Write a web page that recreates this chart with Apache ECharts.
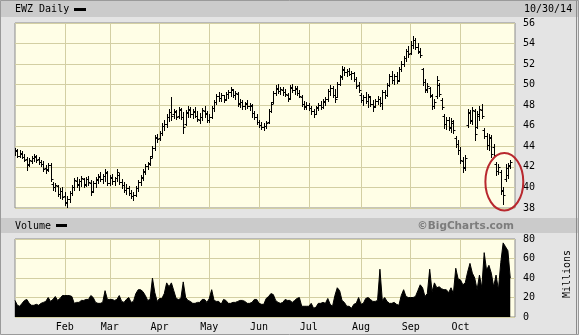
<!DOCTYPE html>
<html><head><meta charset="utf-8">
<script src="https://cdn.jsdelivr.net/npm/echarts@6/dist/echarts.min.js"></script>
<style>html,body{margin:0;padding:0;background:#e4e4e4;}#c{width:579px;height:335px;}</style>
</head><body><div id="c"></div>
<script>
// ---- text / labels ----
const titleText = 'EWZ Daily';
const dateText = '10/30/14';
const volumeTitle = 'Volume';
const creditText = '\u00A9BigCharts.com';
const volumeUnit = 'Millions';
const monthLabels = ['Jan','Feb','Mar','Apr','May','Jun','Jul','Aug','Sep','Oct','Nov'];
const priceTicks = [38, 56, 2];   // min, max, step
const volumeTicks = [0, 80, 20];  // min, max, step

// ---- trading calendar (categories) ----
const firstDay = '2014-01-02', lastDay = '2014-10-30';
const holidays = ['2014-01-20','2014-02-17','2014-04-18','2014-05-26','2014-07-04','2014-09-01'];
const padDays = ['2014-10-31','2014-11-03'];

// ---- price bars (Jan ... Oct, one per trading day) ----
const opens = [
43.5,43.5,43.1,43.3,43.0,42.8,42.3,42.6,42.9,43.0,42.8,42.5,42.3,41.9,41.8,42.2,40.3,40.0,40.1,39.4,39.7,
39.2,38.5,38.9,39.5,40.0,40.6,40.2,40.6,40.8,40.3,40.8,40.4,39.7,40.4,40.7,41.0,40.8,41.1,41.4,
40.4,40.9,40.6,40.9,41.2,40.5,40.2,39.8,39.9,39.5,39.2,39.3,39.9,40.5,41.0,41.5,42.1,42.4,43.1,43.8,44.8,
44.8,45.3,46.0,46.2,46.9,47.3,47.1,47.3,47.0,47.5,46.9,46.2,47.2,47.5,47.1,47.3,47.0,46.6,46.9,47.4,47.1,
46.6,46.9,47.7,48.3,48.9,48.7,49.0,48.6,49.1,49.3,49.5,49.0,49.1,48.2,48.3,47.9,48.1,47.9,47.9,47.2,46.9,
46.4,46.1,45.9,46.0,46.4,47.4,48.3,49.2,49.6,49.4,49.5,49.3,49.0,48.7,49.7,49.5,49.6,49.2,48.8,48.1,47.8,
48.0,47.7,47.4,47.1,47.7,48.0,47.8,48.3,48.6,49.4,49.7,49.0,48.8,50.1,50.8,51.4,51.2,51.3,51.0,51.1,50.6,50.0,
49.0,48.5,48.8,48.4,48.8,48.1,47.9,48.4,48.6,48.2,49.3,49.0,50.0,50.8,50.5,50.8,50.5,51.5,52.0,52.6,53.3,
53.1,53.9,54.3,53.7,53.2,51.5,50.3,49.6,49.7,48.9,47.9,48.9,50.0,48.5,47.0,46.2,46.6,45.8,46.3,44.8,44.2,
43.6,42.6,42.0,46.1,47.2,46.5,47.4,45.9,47.0,47.5,45.6,45.0,44.1,44.8,43.9,42.3,41.6,41.5,39.7,40.8,41.2,42.1
];
const highs = [
43.8,43.7,43.6,43.5,43.3,43.0,42.9,43.1,43.3,43.2,43.0,42.7,42.6,42.2,42.4,42.4,40.5,40.4,40.2,39.9,40.0,
39.6,39.2,39.7,40.2,40.9,41.0,40.8,41.1,40.9,41.0,41.1,40.7,40.6,41.0,41.3,41.5,41.3,41.8,41.6,
41.2,41.3,41.0,41.8,41.4,40.8,40.5,40.3,40.1,39.8,39.6,40.1,40.7,41.2,41.8,42.3,42.5,43.1,44.0,45.1,45.2,
45.5,46.3,46.6,47.1,47.6,48.8,47.6,47.5,47.8,47.7,47.3,47.5,47.9,47.8,47.6,47.8,47.4,47.2,47.7,47.9,47.4,
47.1,47.9,48.5,49.1,49.3,49.2,49.0,49.3,49.5,49.8,49.6,49.4,49.3,48.6,48.5,48.3,48.5,48.2,48.1,47.4,47.1,
46.6,46.4,46.3,46.5,47.6,48.3,49.4,50.0,50.1,49.8,49.8,49.6,49.2,50.0,50.1,49.9,49.9,49.5,49.0,48.4,48.3,
48.2,47.9,47.6,47.9,48.2,48.4,48.6,48.8,49.6,50.0,49.9,49.6,50.3,50.9,51.8,51.7,51.5,51.6,51.3,51.2,50.7,50.3,
49.2,49.0,49.3,49.1,48.9,48.5,48.6,48.9,48.8,49.5,49.5,50.2,51.0,51.3,51.0,51.2,51.7,52.3,52.8,53.5,53.8,
54.2,54.7,54.5,54.1,53.6,51.6,50.6,50.2,49.8,49.1,48.6,50.8,50.2,48.7,47.1,46.9,46.9,46.8,46.6,45.0,44.6,
43.9,43.0,43.2,47.6,47.5,47.8,47.6,47.4,47.9,48.1,45.8,45.3,45.2,45.1,44.2,42.5,42.3,41.7,40.0,42.3,42.4,42.7
];
const lows = [
43.2,43.0,43.0,42.9,42.6,41.7,42.1,42.4,42.6,42.5,42.3,42.1,41.6,41.4,41.6,40.6,39.8,39.7,39.2,39.0,38.9,
38.3,38.0,38.6,39.3,39.8,40.0,39.8,40.1,40.0,40.1,40.2,39.3,39.6,40.0,40.4,40.6,40.4,40.6,40.2,
40.2,40.3,40.2,40.6,40.3,39.9,39.6,39.4,39.3,39.0,38.8,39.2,39.7,40.2,40.7,41.3,41.8,42.2,43.0,43.6,44.4,
44.6,45.1,45.6,45.9,46.5,46.6,46.8,46.7,46.8,46.7,45.3,46.1,46.9,46.9,46.8,46.9,46.5,46.3,46.6,46.9,46.4,
46.4,46.8,47.4,48.1,48.4,48.4,48.3,48.5,48.7,48.9,48.8,48.6,47.9,47.8,47.6,47.6,47.7,47.5,46.9,46.7,46.2,
45.9,45.7,45.6,45.8,46.3,47.3,48.2,49.0,49.2,49.1,49.0,48.9,48.4,48.6,49.3,49.1,49.0,48.8,47.9,47.6,47.6,
47.5,47.1,46.9,47.1,47.5,47.6,47.7,48.0,48.4,49.0,48.8,48.3,48.8,50.0,50.6,50.9,50.8,50.9,50.6,50.4,49.7,49.3,
48.3,48.0,48.2,47.8,47.9,47.4,47.8,48.1,47.9,47.6,48.7,48.9,49.9,50.2,50.1,50.2,50.4,51.3,51.8,52.3,52.7,
53.0,53.6,53.5,53.1,52.7,50.0,49.3,49.3,48.8,47.6,47.7,48.7,48.9,47.6,45.8,45.7,45.6,45.4,45.3,43.9,43.3,
42.4,41.5,41.7,45.9,46.3,46.2,44.6,45.8,46.6,46.8,44.8,43.7,43.6,43.0,43.0,41.2,41.3,39.4,38.4,40.6,40.9,41.9
];
const closes = [
43.6,43.1,43.4,43.0,42.7,42.2,42.7,42.9,43.1,42.7,42.5,42.3,41.8,41.7,42.2,40.8,40.0,40.2,39.4,39.7,39.1,
38.6,38.9,39.5,40.0,40.7,40.3,40.6,40.9,40.2,40.8,40.5,39.6,40.4,40.8,41.1,40.8,41.1,41.5,40.4,
41.0,40.6,40.9,41.5,40.5,40.2,39.8,39.9,39.5,39.2,39.3,39.9,40.5,40.9,41.6,42.1,42.3,42.9,43.8,44.9,44.7,
45.3,46.0,46.2,46.9,47.3,47.0,47.4,46.9,47.6,46.9,45.9,47.3,47.6,47.1,47.4,47.0,46.7,46.9,47.5,47.2,46.6,
46.9,47.7,48.3,48.9,48.7,49.0,48.5,49.1,49.3,49.6,49.0,49.2,48.1,48.3,47.9,48.2,47.9,48.0,47.2,46.9,46.4,
46.1,45.9,46.0,46.3,47.4,48.1,49.2,49.7,49.4,49.6,49.3,49.1,48.6,49.8,49.5,49.7,49.2,48.9,48.1,47.9,48.0,
47.7,47.4,47.1,47.8,48.0,47.8,48.4,48.6,49.4,49.7,49.0,48.6,50.1,50.7,51.5,51.2,51.3,51.0,51.1,50.6,49.9,49.5,
48.5,48.8,48.4,48.9,48.1,47.8,48.4,48.6,48.2,49.3,49.0,50.0,50.8,50.5,50.8,50.4,51.5,52.0,52.6,53.3,53.0,
53.9,54.3,53.7,53.3,52.9,50.3,49.5,49.9,49.0,47.9,48.3,50.5,49.1,47.8,46.2,46.6,45.9,46.5,45.6,44.2,43.6,
42.7,41.9,42.9,47.3,46.6,47.5,45.2,47.1,47.6,47.0,45.0,44.1,44.9,43.3,43.2,41.6,42.0,39.8,39.3,41.9,42.2,42.5
];
// ---- volume, millions ----
const volumes = [
17,12,11,14,17,18,14,12,12,13,12,14,15,16,20,16,18,21,17,19,22,
22,22,22,21,14,15,15,17,17,18,18,22,20,15,14,14,15,27,18,
18,18,17,18,22,16,15,18,20,15,16,24,28,28,26,22,17,18,40,25,16,
19,19,24,35,31,35,27,19,18,19,36,20,17,16,14,14,15,15,18,18,15,
19,28,17,16,16,13,18,17,14,14,15,15,16,17,17,16,14,14,15,18,18,
14,13,13,19,21,24,23,17,15,14,15,18,17,17,15,17,19,20,11,11,11,
11,14,9,10,14,14,15,14,19,13,11,22,30,27,17,15,11,11,9,13,14,20,
13,14,19,20,18,16,16,17,49,17,20,16,14,14,15,13,12,22,28,21,20,
20,20,21,27,33,30,21,24,49,26,35,30,31,29,28,28,25,30,24,50,39,
38,33,35,46,55,45,40,28,43,30,66,48,53,45,31,43,28,56,76,72,68,40
];
// annotation: ring around the last bars (centre bar index, centre price, half-width in bars, half-height in price)
const ring = [206.5, 40.55, 8, 2.8];

// ---- build categories ----
function tradingDays(a, b, skip) {
  const out = [];
  const d = new Date(a + 'T00:00:00Z'), e = new Date(b + 'T00:00:00Z');
  while (d <= e) {
    const s = d.toISOString().slice(0, 10), w = d.getUTCDay();
    if (w !== 0 && w !== 6 && skip.indexOf(s) < 0) out.push(s);
    d.setUTCDate(d.getUTCDate() + 1);
  }
  return out;
}
const dates = tradingDays(firstDay, lastDay, holidays).concat(padDays);
function monthStart(i) {
  return i > 0 && i < opens.length && dates[i].slice(5, 7) !== dates[i - 1].slice(5, 7);
}

const ohlc = opens.map((o, i) => [i, o, closes[i], lows[i], highs[i]]);

const font = 'DejaVu Sans Mono';
const gridColor = '#d3cfa3';
const chart = echarts.init(document.getElementById('c'), null, {renderer: 'canvas'});

function renderOHLC(params, api) {
  const i = api.value(0);
  const o = api.coord([i, api.value(1)]);
  const c = api.coord([i, api.value(2)]);
  const l = api.coord([i, api.value(3)]);
  const h = api.coord([i, api.value(4)]);
  const x = Math.round(o[0]) + 0.5;
  const st = {stroke: '#000', lineWidth: 1};
  const yo = Math.round(o[1]) + 0.5, yc = Math.round(c[1]) + 0.5;
  return {type: 'group', children: [
    {type: 'line', shape: {x1: x, y1: Math.round(h[1]), x2: x, y2: Math.round(l[1]) + 1}, style: st},
    {type: 'line', shape: {x1: x - 2, y1: yo, x2: x, y2: yo}, style: st},
    {type: 'line', shape: {x1: x, y1: yc, x2: x + 2, y2: yc}, style: st}
  ]};
}

const L = 15, W = 500;
chart.setOption({
  animation: false,
  backgroundColor: '#e4e4e4',
  textStyle: {fontFamily: font},
  grid: [
    {left: L, width: W, top: 23, height: 185, show: true, backgroundColor: '#fffee6', borderColor: '#8c8c8c', borderWidth: 1},
    {left: L, width: W, top: 239, height: 78, show: true, backgroundColor: '#fffee6', borderColor: '#8c8c8c', borderWidth: 1}
  ],
  xAxis: [0, 1].map(g => ({
    type: 'category', gridIndex: g, data: dates, boundaryGap: false,
    axisLine: {show: false}, axisTick: {show: false},
    axisLabel: {show: g === 1, interval: (i) => monthStart(i), margin: 5,
      formatter: (v) => monthLabels[parseInt(v.slice(5, 7), 10) - 1],
      color: '#000', fontSize: 10, fontFamily: font},
    splitLine: {show: true, interval: (i) => monthStart(i), lineStyle: {color: gridColor, width: 1}}
  })),
  yAxis: [
    {type: 'value', gridIndex: 0, position: 'right', min: priceTicks[0], max: priceTicks[1], interval: priceTicks[2],
     axisLine: {show: false}, axisTick: {show: false},
     axisLabel: {margin: 8, color: '#000', fontSize: 10, fontFamily: font},
     splitLine: {lineStyle: {color: gridColor, width: 1}}},
    {type: 'value', gridIndex: 1, position: 'right', min: volumeTicks[0], max: volumeTicks[1], interval: volumeTicks[2],
     axisLine: {show: false}, axisTick: {show: false},
     axisLabel: {margin: 8, color: '#000', fontSize: 10, fontFamily: font},
     splitLine: {lineStyle: {color: gridColor, width: 1}}}
  ],
  series: [
    {type: 'custom', xAxisIndex: 0, yAxisIndex: 0, data: ohlc, renderItem: renderOHLC,
     encode: {x: 0, y: [1, 2, 3, 4]}, clip: true, silent: true},
    {type: 'line', xAxisIndex: 1, yAxisIndex: 1, data: volumes, symbol: 'none', silent: true,
     lineStyle: {color: '#000', width: 1}, areaStyle: {color: '#000', opacity: 1}}
  ],
  graphic: [
    {type: 'rect', shape: {x: 0, y: 0, width: 579, height: 17}, style: {fill: '#cbcbcb'}, z: 0},
    {type: 'rect', shape: {x: 0, y: 218, width: 579, height: 15}, style: {fill: '#cbcbcb'}, z: 0},
    {type: 'text', x: 15, y: 9, style: {text: titleText, font: '10px ' + font, fill: '#000', textVerticalAlign: 'middle'}},
    {type: 'rect', shape: {x: 74, y: 8, width: 12, height: 3}, style: {fill: '#000'}},
    {type: 'text', x: 524, y: 9, style: {text: dateText, font: '10px ' + font, fill: '#000', textVerticalAlign: 'middle'}},
    {type: 'text', x: 15, y: 226, style: {text: volumeTitle, font: '10px ' + font, fill: '#000', textVerticalAlign: 'middle'}},
    {type: 'rect', shape: {x: 56, y: 224, width: 11, height: 3}, style: {fill: '#000'}},
    {type: 'text', x: 514, y: 226, style: {text: creditText, font: 'bold 10.5px "DejaVu Sans"', fill: '#7c7c7c', textAlign: 'right', textVerticalAlign: 'middle'}},
    {type: 'text', x: 567, y: 274, rotation: Math.PI / 2, style: {text: volumeUnit, font: '10px ' + font, fill: '#000', textAlign: 'center', textVerticalAlign: 'middle'}},
    {type: 'rect', shape: {x: 576.5, y: 0, width: 0, height: 335}, style: {fill: 'none', stroke: '#8a8a8a', lineWidth: 1}},
    {type: 'rect', shape: {x: 0.5, y: 0.5, width: 578, height: 334}, style: {fill: 'none', stroke: '#9a9a9a', lineWidth: 1}}
  ]
});

// red ring around the last bars, placed through the axes
const p0 = chart.convertToPixel({xAxisIndex: 0, yAxisIndex: 0}, [Math.floor(ring[0]), ring[1]]);
const p1 = chart.convertToPixel({xAxisIndex: 0, yAxisIndex: 0}, [Math.floor(ring[0]) + 1, ring[1] + ring[3]]);
const step = p1[0] - p0[0];
chart.setOption({graphic: [{type: 'ellipse', id: 'ring',
  shape: {cx: p0[0] + step * (ring[0] - Math.floor(ring[0])), cy: p0[1], rx: step * ring[2], ry: p0[1] - p1[1]},
  style: {fill: 'none', stroke: '#b8282e', lineWidth: 2}, z: 100}]});
</script></body></html>
